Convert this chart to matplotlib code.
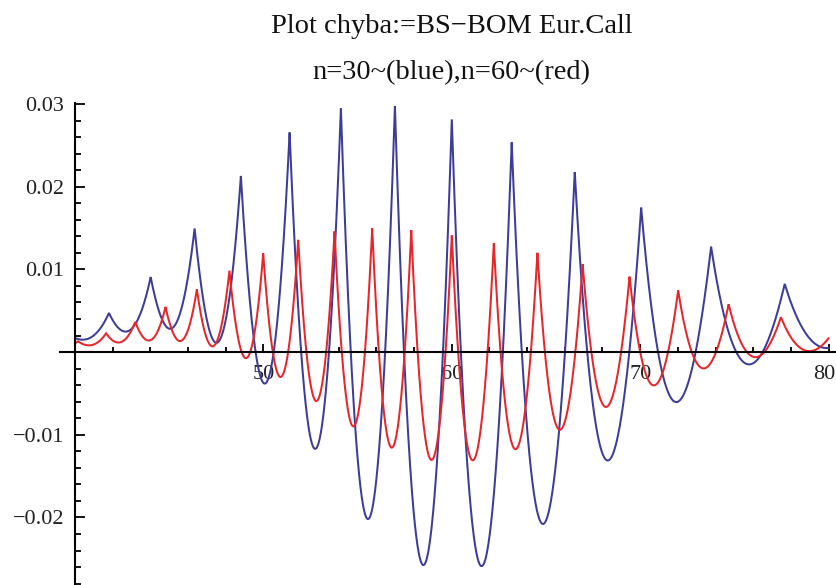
import math
import numpy as np
import matplotlib
matplotlib.use("Agg")
import matplotlib.pyplot as plt
from matplotlib.ticker import MultipleLocator
from matplotlib.transforms import ScaledTranslation

# European call: Black-Scholes price minus Cox-Ross-Rubinstein binomial price,
# plotted against the spot price S0.
strike = 60.0
rate = 0.05
sigma = 0.20
maturity = 0.5
steps = [30, 60]                      # blue, red
colors = ["#3d3d99", "#e8262a"]
spot_min, spot_max = 40.0, 80.0

title_lines = ["Plot chyba:=BS\u2212BOM Eur.Call", "n=30~(blue),n=60~(red)"]
x_ticks = [50, 60, 70, 80]
x_tick_labels = ["50", "60", "70", "80"]
y_ticks = [-0.02, -0.01, 0.01, 0.02, 0.03]
y_tick_labels = ["\u22120.02", "\u22120.01", "0.01", "0.02", "0.03"]

_erf = np.frompyfunc(math.erf, 1, 1)


def norm_cdf(z):
    return 0.5 * (1.0 + _erf(np.asarray(z) / math.sqrt(2.0)).astype(float))


def bs_call(S, K, r, sig, T):
    d1 = (np.log(S / K) + (r + 0.5 * sig ** 2) * T) / (sig * math.sqrt(T))
    d2 = d1 - sig * math.sqrt(T)
    return S * norm_cdf(d1) - K * math.exp(-r * T) * norm_cdf(d2)


def crr_call(S, K, r, sig, T, n):
    dt = T / n
    u = math.exp(sig * math.sqrt(dt))
    d = 1.0 / u
    q = (math.exp(r * dt) - d) / (u - d)
    j = np.arange(n + 1)
    w = np.array([math.comb(n, k) for k in j], dtype=float) * q ** j * (1 - q) ** (n - j)
    ST = np.asarray(S)[:, None] * (u ** j * d ** (n - j))[None, :]
    return math.exp(-r * T) * (np.maximum(ST - K, 0.0) * w[None, :]).sum(axis=1)


def tree_kinks(n):
    # spot prices at which a terminal node lands exactly on the strike
    u = math.exp(sigma * math.sqrt(maturity / n))
    k = strike * u ** (n - 2.0 * np.arange(n + 1))
    return k[(k > spot_min) & (k < spot_max)]


def error_curve(n):
    S = np.linspace(spot_min, spot_max, 8001)
    S = np.unique(np.concatenate([S, tree_kinks(n)]))
    diff = bs_call(S, strike, rate, sigma, maturity) - crr_call(S, strike, rate, sigma, maturity, n)
    return S, diff


W, H = 837, 585
fig = plt.figure(figsize=(W / 100, H / 100), dpi=100)
ax_left, ax_right, ax_top = 60, 837, 103
ax = fig.add_axes([ax_left / W, 0.0, (ax_right - ax_left) / W, (H - ax_top) / H])

for n, col in zip(steps, colors):
    x, y = error_curve(n)
    ax.plot(x, y, color=col, lw=1.45, solid_joinstyle="miter", zorder=3)

ax.set_xlim(39.2, 80.45)
ax.set_ylim(-0.02817, 0.03012)

for side in ("top", "right"):
    ax.spines[side].set_visible(False)
ax.spines["left"].set_position(("data", 40))
ax.spines["bottom"].set_position(("data", 0))
for side in ("left", "bottom"):
    ax.spines[side].set_linewidth(1.5)
    ax.spines[side].set_zorder(4)

ax.set_xticks(x_ticks)
ax.set_xticklabels(x_tick_labels)
ax.set_yticks(y_ticks)
ax.set_yticklabels(y_tick_labels)
ax.xaxis.set_minor_locator(MultipleLocator(2))
ax.yaxis.set_minor_locator(MultipleLocator(0.002))
ax.tick_params(which="both", direction="in", labelsize=16, width=1.3)
ax.tick_params(axis="x", which="major", length=5.5, pad=9)
ax.tick_params(axis="x", which="minor", length=3.5)
ax.tick_params(axis="y", which="major", length=7, pad=8)
ax.tick_params(axis="y", which="minor", length=4.5)
for lab in ax.get_xticklabels() + ax.get_yticklabels():
    lab.set_family("Liberation Serif")
    lab.set_color("#222222")

# keep the last x label inside the canvas
last = ax.get_xticklabels()[-1]
last.set_transform(last.get_transform() + ScaledTranslation(-4 / 100, 0, fig.dpi_scale_trans))

xc = (75 + 828) / 2 / W
fig.text(xc, 1 - 33 / H, title_lines[0], ha="center", va="baseline",
         family="Liberation Serif", fontsize=20.5, color="#111111")
fig.text(xc, 1 - 79 / H, title_lines[1], ha="center", va="baseline",
         family="Liberation Serif", fontsize=20.5, color="#111111")

fig.savefig("out.png", dpi=100)
